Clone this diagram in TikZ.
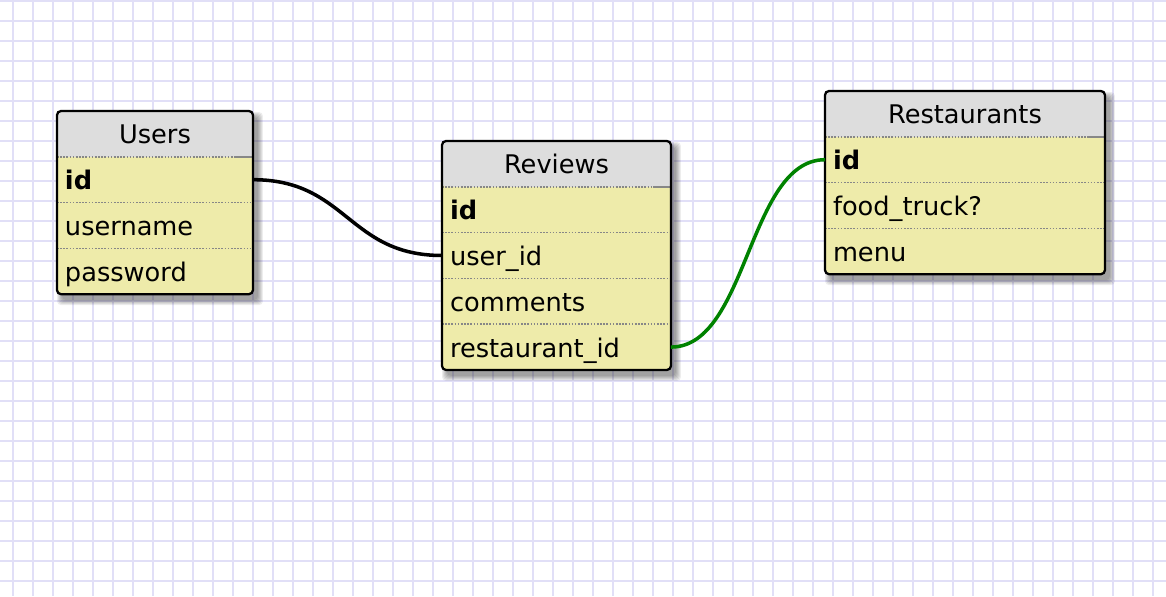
\documentclass[tikz,border=0pt]{standalone}
\usepackage{fontspec}
\setmainfont{DejaVu Sans}
\usetikzlibrary{
  positioning,
  backgrounds
}
\definecolor{gridline}{RGB}{225,223,247}
\definecolor{rowfill}{RGB}{238,235,170}
\definecolor{headfill}{RGB}{221,221,221}
\definecolor{sepgray}{RGB}{135,135,135}
\definecolor{linkgreen}{RGB}{0,130,0}
\tikzset{
  tabhead/.style={text width=#1, align=center, inner xsep=0.16cm, inner ysep=0pt,
    minimum height=0.916cm, text height=0.4cm, text depth=0cm, outer sep=0pt,
    font=\fontsize{14.6pt}{17pt}\selectfont},
  field/.style={tabhead=#1, align=left},
  sepline/.style={sepgray, line width=0.9pt, dash pattern=on 0.9pt off 0.9pt},
  link/.style={line width=2pt}
}

\begin{document}
\begin{tikzpicture}[x=0.02cm, y=-0.02cm]
        \useasboundingbox (0,0) rectangle (1166,596);
        % Users
        \node[tabhead=3.6cm, anchor=north west] (users) at (57,111) {Users};
        \node[field=3.6cm, below=0pt of users] (users-id) {\textbf{id}};
        \node[field=3.6cm, below=0pt of users-id] (users-name) {username};
        \node[field=3.6cm, below=0pt of users-name] (users-pw) {password};
        % Reviews
        \node[tabhead=4.26cm, anchor=north west] (rev) at (442,141) {Reviews};
        \node[field=4.26cm, below=0pt of rev] (rev-id) {\textbf{id}};
        \node[field=4.26cm, below=0pt of rev-id] (rev-userid) {user\_id};
        \node[field=4.26cm, below=0pt of rev-userid] (rev-comments) {comments};
        \node[field=4.26cm, below=0pt of rev-comments] (rev-restid) {restaurant\_id};
        % Restaurants
        \node[tabhead=5.28cm, anchor=north west] (rest) at (825,91) {Restaurants};
        \node[field=5.28cm, below=0pt of rest] (rest-id) {\textbf{id}};
        \node[field=5.28cm, below=0pt of rest-id] (rest-truck) {food\_truck?};
        \node[field=5.28cm, below=0pt of rest-truck] (rest-menu) {menu};

        \begin{scope}[on background layer]
          \fill[white] (0,0) rectangle (1166,596);
          \foreach \x in {13,33,...,1153} \draw[gridline, line width=1.2pt] (\x,0) -- (\x,596);
          \foreach \y in {1,21,...,581} \draw[gridline, line width=1.2pt] (0,\y) -- (1166,\y);
          \foreach \t/\last in {users/users-pw, rev/rev-restid, rest/rest-menu} {
            \foreach \k in {0,...,5}
              \fill[black, opacity=0.07, rounded corners=2.3pt]
                ([shift={(5-\k,6-\k)}]\t.north west) rectangle ([shift={(5+\k,6+\k)}]\last.south east);
            \fill[rowfill, rounded corners=2.3pt] (\t.north west) rectangle (\last.south east);
            \fill[headfill, rounded corners=2.3pt] (\t.north west) rectangle (\t.south east);
          }
        \end{scope}

        \foreach \r in {users-name, users-pw, rev-userid, rev-comments, rev-restid, rest-truck, rest-menu}
          \draw[sepline] (\r.north west) -- (\r.north east);
        \foreach \t/\last in {users/users-pw, rev/rev-restid, rest/rest-menu} {
          \draw[sepline] (\t.south west) -- ([xshift=-10pt]\t.south east);
          \draw[sepgray, line width=1.1pt] ([xshift=-10pt]\t.south east) -- (\t.south east);
          \draw[line width=1.3pt, rounded corners=2.3pt] (\t.north west) rectangle (\last.south east);
        }

        \draw[link] (users-id.east) .. controls +(94,0) and +(-94,0) .. (rev-userid.west);
        \draw[link, linkgreen] (rev-restid.east) .. controls +(77,0) and +(-77,0) .. (rest-id.west);
\end{tikzpicture}
\end{document}
